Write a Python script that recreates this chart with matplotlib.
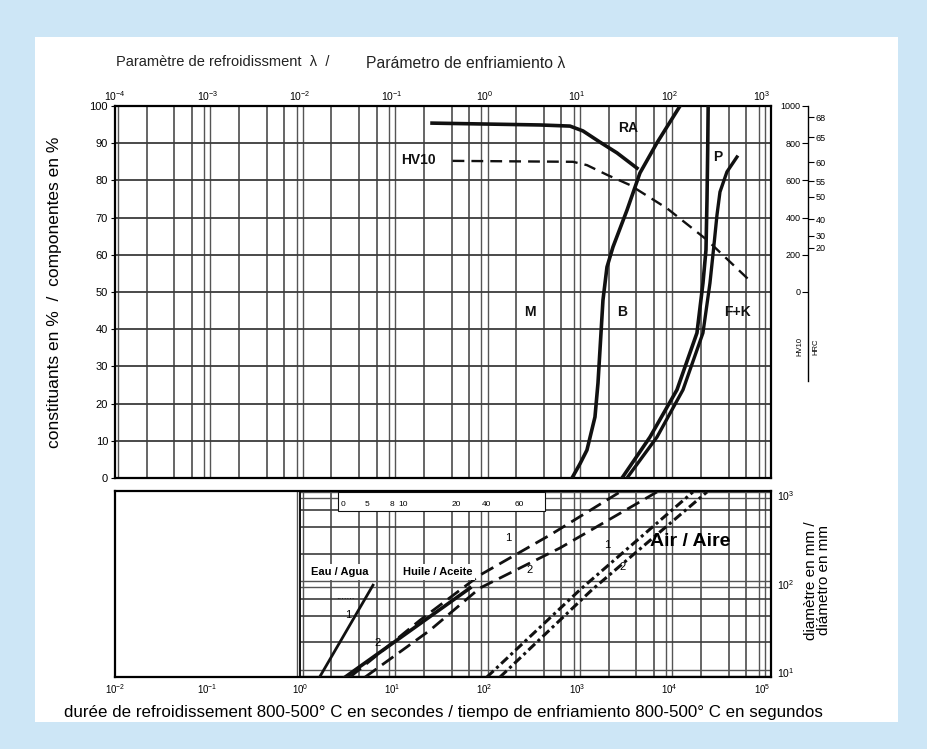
import numpy as np
import matplotlib
matplotlib.use('Agg')
import matplotlib.pyplot as plt
from matplotlib.patches import Rectangle
from matplotlib.ticker import FixedLocator, NullLocator
from matplotlib.transforms import blended_transform_factory

plt.rcParams['font.family'] = ['Liberation Sans', 'DejaVu Sans']
plt.rcParams['mathtext.fontset'] = 'custom'
plt.rcParams['mathtext.rm'] = 'Liberation Sans'
plt.rcParams['mathtext.it'] = 'Liberation Sans:italic'
plt.rcParams['mathtext.bf'] = 'Liberation Sans:bold'

# ------- upper panel: constituents (%) vs cooling time t8/5 (s) -------
ra_t = [27, 400, 840, 1160, 1770, 2710, 4460]
ra_pct = [95.4, 94.9, 94.6, 93.3, 90.3, 87.4, 83.3]

hv10_t = [45, 906, 1284, 2112, 3748, 9420, 25530, 78340]
hv10_hv = [705, 700, 682, 630, 575, 450, 280, 50]

mb_t = [883, 1077, 1282, 1566, 1688, 1774, 1911, 2112, 2453, 3478, 4806, 7342, 13040]
mb_pct = [0, 3.8, 7.5, 16.4, 25.5, 34.4, 47.8, 56.7, 62.1, 72.0, 82.0, 90.1, 100]

bf_t = [3071, 6166, 12080, 19890, 23100, 24900, 25540, 26000, 26300]
bf_pct = [0, 11.0, 23.7, 39.0, 52.4, 61.3, 74.7, 88.2, 100]

p_t = [3476, 7342, 14040, 23100, 27500, 30380, 32760, 35300, 42000, 53900]
p_pct = [0, 11.0, 23.7, 39.0, 52.4, 62.6, 70.7, 76.9, 82.3, 86.3]

# hardness scale on the right (HV10 with matching HRC)
hv_ticks = [0, 200, 400, 600, 800, 1000]
hrc_vals = [20, 30, 40, 50, 55, 60, 65, 68]
hrc_hv = [238, 302, 392, 513, 595, 697, 832, 940]

lam_ticks = [1e-4, 1e-3, 1e-2, 1e-1, 1e0, 1e1, 1e2, 1e3]
lam_labels = ['$10^{-4}$', '$10^{-3}$', '$10^{-2}$', '$10^{-1}$',
              '$10^{0}$', '$10^{1}$', '$10^{2}$', '$10^{3}$']

# ------- lower panel: diameter (mm) vs cooling time (s) -------
eau_t = [1.65, 6.2]
eau_d = [9, 97]
huile_t = [3.1, 69.5]
huile_d = [8.9, 90]
huile1_t = [3.5, 20, 89, 510, 2920]
huile1_d = [8.9, 39, 126, 357, 1094]
huile2_t = [5.1, 25.6, 89, 655, 7340]
huile2_d = [8.9, 30, 90, 255, 1094]
air1_t = [106, 1077, 17990]
air1_d = [8.9, 86, 1094]
air2_t = [147, 1452, 25540]
air2_d = [8.9, 86, 1094]

t_ticks = [1e-2, 1e-1, 1e0, 1e1, 1e2, 1e3, 1e4, 1e5]
t_labels = ['$10^{-2}$', '$10^{-1}$', '$10^{0}$', '$10^{1}$',
            '$10^{2}$', '$10^{3}$', '$10^{4}$', '$10^{5}$']
d_ticks = [10, 100, 1000]
d_labels = ['$10^{1}$', '$10^{2}$', '$10^{3}$']

scale_vals = ['0', '5', '8', '10', '20', '40', '60']
scale_pos = [2.9, 5.3, 10, 13, 50, 105, 240]

W, H = 928, 749
XLIM = (10 ** -2.0, 10 ** 5.1)
YLIM_D = (10 ** 0.95, 10 ** 3.05)
INK = '#111111'
GRID = '#3c3c3c'


def box(l, t, r, b):
    return [l / W, 1 - b / H, (r - l) / W, (b - t) / H]


def log_grid(lo, hi, vmin, vmax):
    # doubled line at each decade plus three lines in between
    major, minor = [], []
    for k in range(lo, hi + 1):
        base = 10.0 ** k
        major += [base * 0.925, base * 1.08]
        minor += [base * m for m in (2.2, 4.4, 6.8)]
    major = [v for v in major if vmin < v < vmax]
    minor = [v for v in minor if vmin < v < vmax]
    return major, minor


fig = plt.figure(figsize=(W / 100, H / 100), dpi=100)
fig.patch.set_facecolor('#cde6f6')
fig.patches.append(Rectangle((35 / W, 27 / H), 863 / W, 685 / H,
                             transform=fig.transFigure, facecolor='white',
                             edgecolor='none', zorder=-5))

# ------- upper panel -------
ax = fig.add_axes(box(115, 106, 771, 478))
ax.set_xscale('log')
ax.set_xlim(*XLIM)
ax.set_ylim(0, 100)

vmaj, vmin_ = log_grid(-2, 5, *XLIM)
ax.vlines(vmaj, 0, 100, color='#555555', lw=1.0, zorder=1)
ax.vlines(vmin_, 0, 100, color=GRID, lw=1.1, zorder=1)
ax.hlines(range(10, 100, 10), *XLIM, color=GRID, lw=1.3, zorder=1)

ax.plot(ra_t, ra_pct, color=INK, lw=2.6, zorder=3)
ax.plot(mb_t, mb_pct, color=INK, lw=2.6, zorder=3)
ax.plot(bf_t, bf_pct, color=INK, lw=2.6, zorder=3)
ax.plot(p_t, p_pct, color=INK, lw=2.4, zorder=3)

ax.set_yticks(range(0, 101, 10))
ax.tick_params(axis='y', labelsize=8, length=3, pad=2)
ax.xaxis.set_major_locator(NullLocator())
ax.xaxis.set_minor_locator(NullLocator())
for s in ax.spines.values():
    s.set_linewidth(1.6)
ax.set_ylabel('constituants en %  /  componentes en %', fontsize=12.5)
ax.yaxis.set_label_coords(-0.081, 0.5)

sec = ax.secondary_xaxis('top', functions=(lambda t: t / 100, lambda l: l * 100))
sec.xaxis.set_major_locator(FixedLocator(lam_ticks))
sec.set_xticklabels(lam_labels)
sec.xaxis.set_minor_locator(NullLocator())
sec.tick_params(length=0, labelsize=7.5, pad=2)
sec.spines['top'].set_visible(False)

fig.text(116 / W, 1 - 62 / H, 'Paramètre de refroidissment  λ  /', fontsize=10.5,
         va='center', ha='left', color='#222')
fig.text(366 / W, 1 - 63 / H, 'Parámetro de enfriamiento λ', fontsize=11.3,
         va='center', ha='left', color='#222')

for txt, tx, py in [('RA', 3565, 94.1), ('HV10', 19, 85.5), ('P', 33570, 86.3),
                    ('M', 310, 44.6), ('B', 3070, 44.6), ('F+K', 55200, 44.6)]:
    ax.text(tx, py, txt, fontsize=10, fontweight='bold', ha='center',
            va='center', color=INK, zorder=4)

# HV10 curve and hardness scale
ax_hv = ax.twinx()
ax_hv.set_ylim(-1000, 1000)
ax_hv.plot(hv10_t, hv10_hv, color=INK, lw=1.7, ls=(0, (5, 3)), zorder=3)
for name, s in ax_hv.spines.items():
    s.set_visible(name == 'left')
ax_hv.spines['left'].set_position(('axes', 1.0564))
ax_hv.spines['left'].set_bounds(-480, 1000)
ax_hv.spines['left'].set_linewidth(1.0)
ax_hv.yaxis.tick_left()
ax_hv.set_yticks(hv_ticks)
ax_hv.tick_params(axis='y', labelsize=6.5, length=4, pad=1.5, direction='out')

ax_hrc = ax.twinx()
ax_hrc.set_ylim(-1000, 1000)
for s in ax_hrc.spines.values():
    s.set_visible(False)
ax_hrc.spines['right'].set_position(('axes', 1.0564))
ax_hrc.yaxis.tick_right()
ax_hrc.set_yticks(hrc_hv)
ax_hrc.set_yticklabels([str(v) for v in hrc_vals])
ax_hrc.tick_params(axis='y', labelsize=6.5, length=4, pad=1.5, direction='out')

fig.text(800 / W, 1 - 347 / H, 'HV10', rotation=90, fontsize=5.5, ha='center', va='center')
fig.text(816 / W, 1 - 347 / H, 'HRC', rotation=90, fontsize=5.5, ha='center', va='center')

# ------- lower panel -------
axb = fig.add_axes(box(115, 491, 771, 677))
axb.set_xscale('log')
axb.set_yscale('log')
axb.set_xlim(*XLIM)
axb.set_ylim(*YLIM_D)

bmaj, bmin = log_grid(0, 5, 0.9, XLIM[1])
axb.vlines(bmaj, *YLIM_D, color='#555555', lw=1.0, zorder=1)
axb.vlines(bmin, *YLIM_D, color=GRID, lw=1.1, zorder=1)
hmaj, hmin = log_grid(1, 3, *YLIM_D)
axb.hlines(hmaj, 1.0, XLIM[1], color='#555555', lw=1.0, zorder=1)
axb.hlines(hmin, 1.0, XLIM[1], color=GRID, lw=1.2, zorder=1)
axb.axvline(1.0, color=INK, lw=1.4, zorder=1)

axb.plot(eau_t, eau_d, color=INK, lw=2.0, zorder=3)
axb.plot(huile_t, huile_d, color=INK, lw=2.6, zorder=3)
axb.plot(huile1_t, huile1_d, color=INK, lw=2.0, ls=(0, (5, 2.5)), zorder=3)
axb.plot(huile2_t, huile2_d, color=INK, lw=2.0, ls=(0, (5, 2.5)), zorder=3)
axb.plot(air1_t, air1_d, color=INK, lw=2.2, ls=(0, (3, 1.2, 1, 1.2)), zorder=3)
axb.plot(air2_t, air2_d, color=INK, lw=2.2, ls=(0, (3, 1.2, 1, 1.2)), zorder=3)

axb.xaxis.set_major_locator(FixedLocator(t_ticks))
axb.set_xticklabels(t_labels)
axb.xaxis.set_minor_locator(NullLocator())
axb.tick_params(axis='x', length=0, labelsize=7, pad=4)
axb.yaxis.tick_right()
axb.yaxis.set_major_locator(FixedLocator(d_ticks))
axb.set_yticklabels(d_labels)
axb.yaxis.set_minor_locator(NullLocator())
axb.tick_params(axis='y', length=0, labelsize=7.5, pad=4)
for s in axb.spines.values():
    s.set_linewidth(1.6)
axb.yaxis.set_label_position('right')
axb.set_ylabel('diamètre en mm /\ndiámetro en mm', fontsize=11, rotation=90,
               linespacing=0.9)
axb.yaxis.set_label_coords(1.050, 0.52)
axb.set_xlabel('durée de refroidissement 800-500° C en secondes / tiempo de '
               'enfriamiento 800-500° C en segundos', fontsize=12.2, labelpad=6)

# small scale box along the top edge
trans = blended_transform_factory(axb.transData, axb.transAxes)
axb.add_patch(Rectangle((2.6, 0.895), 451 - 2.6, 0.1, transform=trans,
                        facecolor='white', edgecolor=INK, lw=0.8, zorder=2))
for lab, xp in zip(scale_vals, scale_pos):
    axb.text(xp, 0.93, lab, transform=trans, fontsize=6, ha='center',
             va='center', zorder=4)

narrow = ['Liberation Sans Narrow', 'Liberation Sans', 'DejaVu Sans']
wbox = dict(facecolor='white', edgecolor='none', pad=2)
axb.text(2.72, 137, 'Eau / Agua', fontsize=8, fontweight='bold', family=narrow,
         ha='center', va='center', bbox=wbox, zorder=4)
axb.text(3.1, 73, '.......', fontsize=7, ha='center', va='center', zorder=4)
axb.text(31.3, 137, 'Huile / Aceite', fontsize=8, fontweight='bold', family=narrow,
         ha='center', va='center', bbox=wbox, zorder=4)
axb.text(16700, 298, 'Air / Aire', fontsize=14, fontweight='bold', family=narrow,
         ha='center', va='center', zorder=4)
for lab, tx, dy in [('1', 3.33, 44.7), ('2', 7.0, 21.6), ('1', 179, 331),
                    ('2', 310, 144), ('1', 2113, 275), ('2', 3150, 156)]:
    axb.text(tx, dy, lab, fontsize=8, ha='center', va='center', zorder=4)

fig.savefig('out.png', dpi=100, facecolor=fig.get_facecolor())
